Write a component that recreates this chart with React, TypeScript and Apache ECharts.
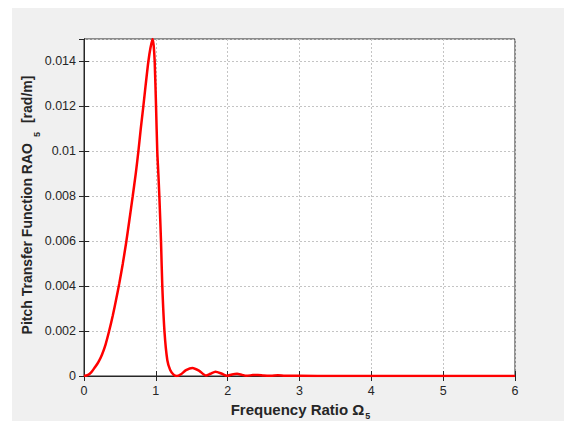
import React, { useEffect, useRef } from "react";
import * as echarts from "echarts";

const freqRatio = [0, 0.05, 0.1, 0.15, 0.2, 0.25, 0.3, 0.35, 0.4, 0.45, 0.49, 0.54, 0.585, 0.63, 0.678, 0.72, 0.757, 0.79, 0.826, 0.86, 0.896, 0.925, 0.955, 0.97, 0.984, 1.003, 1.02, 1.035, 1.049, 1.072, 1.09, 1.12, 1.16, 1.2, 1.25, 1.29, 1.35, 1.42, 1.51, 1.6, 1.7, 1.76, 1.83, 1.92, 1.99, 2.06, 2.13, 2.2, 2.26, 2.35, 2.42, 2.5, 2.6, 2.7, 2.8, 3.0, 3.5, 4, 5, 6];
const raoPitch = [0, 0.00004, 0.00016, 0.00038, 0.00062, 0.00095, 0.0014, 0.002, 0.00268, 0.00345, 0.0041, 0.005, 0.0059, 0.0069, 0.008, 0.009, 0.01, 0.011, 0.012, 0.013, 0.014, 0.0146, 0.015, 0.0147, 0.014, 0.012, 0.01, 0.009, 0.008, 0.006, 0.004, 0.002, 0.0007, 0.00027, 0.00005, 0, 0.00008, 0.00026, 0.00036, 0.00024, 0.00002, 0.0001, 0.00019, 0.0001, 0.00001, 0.00007, 0.0001, 0.00005, 0.00001, 0.00004, 0.00005, 0.00002, 0.00001, 0.00003, 0.00001, 0.00001, 0, 0, 0, 0];

const xTicks = { min: 0, max: 6, interval: 1 };
const yTicks = { min: 0, max: 0.015, interval: 0.002 };

const FONT = "'Liberation Sans', Arial, Helvetica, sans-serif";
const INK = "#262626";

export default function App() {
  const ref = useRef<HTMLDivElement>(null);
  useEffect(() => {
    if (!ref.current) return;
    const chart = echarts.init(ref.current, undefined, { renderer: "svg" });
    const gridLine = { show: true, lineStyle: { color: "#c4c4c4", type: [2, 2] as any, width: 1 } };
    const tick = { show: true, inside: true, length: 5, lineStyle: { color: INK } };
    const fmt = (v: number) => String(+v.toFixed(4));
    const subBase = { fontSize: 9, fontWeight: "bold", fontFamily: FONT, fill: INK, lineHeight: 9, verticalAlign: "top" };
    const xRich = {
      a: { fontSize: 15, fontWeight: "bold", fontFamily: FONT, fill: INK, lineHeight: 15, verticalAlign: "top" },
      s: { ...subBase, padding: [9.5, 0, 0, 1] },
    };
    const yBase = { fontSize: 14, fontWeight: "bold", fontFamily: FONT, fill: INK, lineHeight: 14, verticalAlign: "top" };
    const yRich = {
      a: yBase,
      b: { ...yBase, padding: [0, 0, 0, 9] },
      t: { ...subBase, padding: [12, 0, 0, 6] },
    };
    chart.setOption({
      animation: false,
      backgroundColor: "#f0f0f0",
      grid: { left: 72, right: 49, top: 31, bottom: 45, show: true, backgroundColor: "#ffffff", borderColor: INK, borderWidth: 1 },
      xAxis: [
        {
          type: "value", min: xTicks.min, max: xTicks.max, interval: xTicks.interval,
          axisLine: { show: true, onZero: false, lineStyle: { color: INK } },
          axisTick: tick,
          axisLabel: { color: INK, fontSize: 12.5, fontFamily: FONT, margin: 8 },
          splitLine: gridLine,
        },
        {
          type: "value", position: "top", min: xTicks.min, max: xTicks.max, interval: xTicks.interval,
          axisLine: { show: true, lineStyle: { color: INK } },
          axisTick: tick, axisLabel: { show: false }, splitLine: { show: false },
        },
      ],
      yAxis: [
        {
          type: "value", min: yTicks.min, max: yTicks.max, interval: yTicks.interval,
          axisLine: { show: true, onZero: false, lineStyle: { color: INK } },
          axisTick: tick,
          axisLabel: { color: INK, fontSize: 12.5, fontFamily: FONT, margin: 8, showMaxLabel: false, formatter: fmt },
          splitLine: gridLine,
        },
        {
          type: "value", position: "right", min: yTicks.min, max: yTicks.max, interval: yTicks.interval,
          axisLine: { show: true, lineStyle: { color: INK } },
          axisTick: tick, axisLabel: { show: false }, splitLine: { show: false },
        },
      ],
      graphic: [
        {
          type: "text", x: 288.5, y: 394,
          style: {
            text: "{a|Frequency Ratio Ω}{s|5}",
            align: "center", verticalAlign: "top",
            rich: xRich,
          },
        },
        {
          type: "text", x: 8, y: 197, rotation: Math.PI / 2,
          style: {
            text: "{a|Pitch Transfer Function RAO}{t|5}{b|[rad/m]}",
            align: "center", verticalAlign: "top",
            rich: yRich,
          },
        },
      ],
      series: [
        {
          type: "line",
          data: freqRatio.map((x, i) => [x, raoPitch[i]]),
          showSymbol: false,
          smooth: 0.25,
          lineStyle: { color: "#ff0000", width: 2.5 },
          clip: true,
        },
      ],
    });
    return () => chart.dispose();
  }, []);
  return (
    <div
      ref={ref}
      style={{ position: "absolute", left: 12, top: 8, width: 552, height: 413 }}
    />
  );
}
